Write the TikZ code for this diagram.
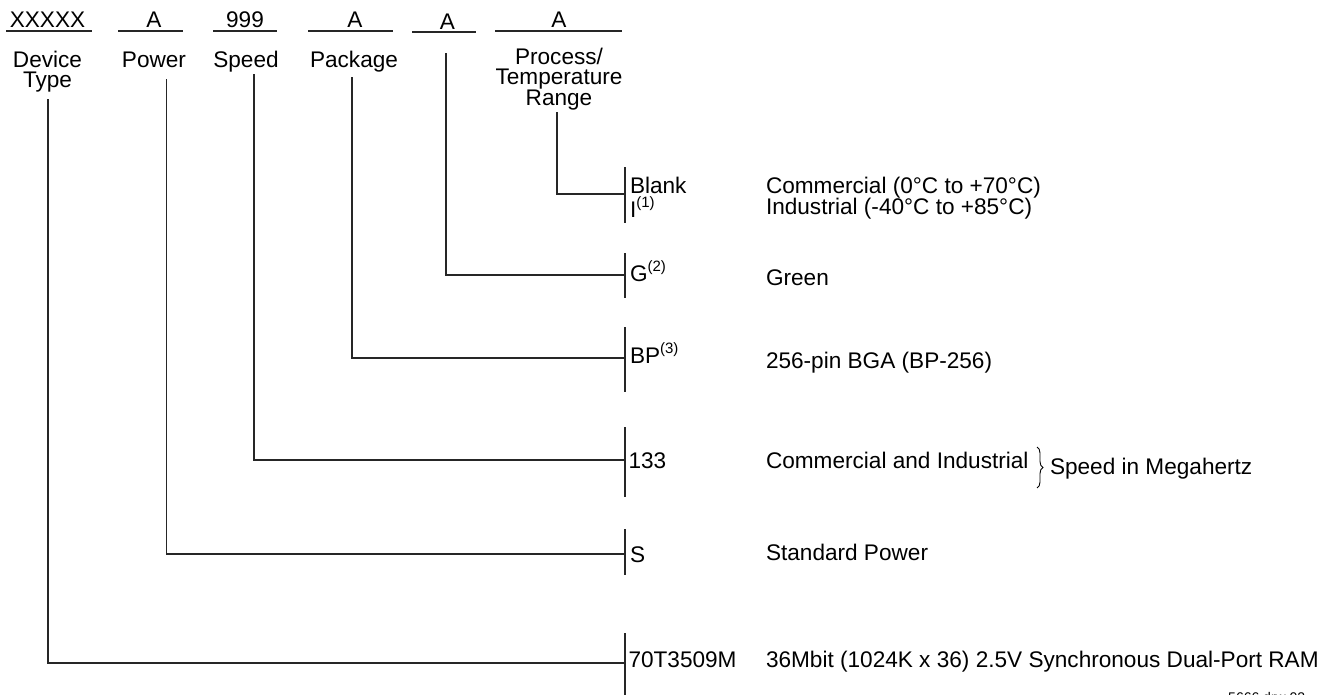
\documentclass[tikz,border=0pt]{standalone}
\usepackage{fontspec}
\setmainfont{Liberation Sans}
\usetikzlibrary{decorations.pathreplacing}
\newcommand{\supnum}[1]{\raisebox{0.4em}{\fontsize{15}{15}\selectfont(#1)}}
\begin{document}
\begin{tikzpicture}[x=1pt,y=-1pt,
  txt/.style={inner sep=0pt,outer sep=0pt,font=\fontsize{22.6}{20.5}\selectfont},
  toplbl/.style={txt,anchor=base},
  lbl/.style={txt,anchor=base,align=center},
  code/.style={txt,anchor=base west},
  desc/.style={txt,anchor=base west},
  wire/.style={line width=1.1pt,black!85},
  uline/.style={line width=1.1pt,black!85}]
\useasboundingbox (0,0) rectangle (1321,694);
% top row
\node[toplbl] (tDev) at (47.5,27) {XXXXX};
\node[toplbl] (tPow) at (154,27) {A};
\node[toplbl] (tSpd) at (245,27) {999};
\node[toplbl] (tPkg) at (355,27) {A};
\node[toplbl] (tGrn) at (447.5,29) {A};
\node[toplbl] (tPrc) at (559,27) {A};
\draw[uline] (6,31) coordinate (u1a) -- (92,31) coordinate (u1b);
\draw[uline] (118,31) coordinate (u2a) -- (183,31) coordinate (u2b);
\draw[uline] (213,31) coordinate (u3a) -- (277,31) coordinate (u3b);
\draw[uline] (308,31) coordinate (u4a) -- (393,31) coordinate (u4b);
\draw[uline] (412,32) coordinate (u5a) -- (476,32) coordinate (u5b);
\draw[uline] (495,31) coordinate (u6a) -- (622,31) coordinate (u6b);
% field labels (base = last line)
\node[lbl] (lDev) at (47.5,87.5) {Device\\Type};
\node[lbl] (lPow) at (154,67) {Power};
\node[lbl] (lSpd) at (246,67) {Speed};
\node[lbl] (lPkg) at (354,67) {Package};
\node[lbl] (lPrc) at (559,105) {Process/\\Temperature\\Range};
% line tops
\coordinate (sDev) at (48,99);
\coordinate (sPow) at (166.5,79);
\coordinate (sSpd) at (254,74);
\coordinate (sPkg) at (352,77);
\coordinate (sGrn) at (446,53);
\coordinate (sPrc) at (557,112);
% vertical bars
\draw[wire] (625,167) coordinate (b1t) -- (625,223) coordinate (b1b);
\draw[wire] (625,253) coordinate (b2t) -- (625,298) coordinate (b2b);
\draw[wire] (625,327) coordinate (b3t) -- (625,392) coordinate (b3b);
\draw[wire] (625,427) coordinate (b4t) -- (625,497) coordinate (b4b);
\draw[wire] (625,529) coordinate (b5t) -- (625,575) coordinate (b5b);
\draw[wire] (625,633) coordinate (b6t) -- (625,700) coordinate (b6b);
\coordinate (e1) at (625,194);
\coordinate (e2) at (625,275);
\coordinate (e3) at (625,358);
\coordinate (e4) at (625,460);
\coordinate (e5) at (625,554);
\coordinate (e6) at (625,663);
% connectors
\draw[wire] (sPrc) |- (e1);
\draw[wire] (sGrn) |- (e2);
\draw[wire] (sPkg) |- (e3);
\draw[wire] (sSpd) |- (e4);
\draw[wire] (sPow) |- (e5);
\draw[wire] (sDev) |- (e6);
% codes
\node[code] (cBlank) at (630,193) {Blank};
\node[code] (cI) at (630,217) {I\supnum{1}};
\node[code] (cG) at (630,281) {G\supnum{2}};
\node[code] (cBP) at (630,363) {BP\supnum{3}};
\node[code] (c133) at (628.5,468) {133};
\node[code] (cS) at (630,562) {S};
\node[code] (cDev) at (628.5,667) {70T3509M};
% descriptions
\node[desc] (dCom) at (766,193) {Commercial (0°C to +70°C)};
\node[desc] (dInd) at (766,214) {Industrial (-40°C to +85°C)};
\node[desc] (dGrn) at (766,285) {Green};
\node[desc] (dBGA) at (766,368) {256-pin BGA (BP-256)};
\node[desc] (dCI) at (766,468) {Commercial and Industrial};
\draw[line width=0.9pt,decorate,decoration={brace,amplitude=6pt}] (1037,447) coordinate (brT) -- (1037,488) coordinate (brB);
\node[desc] (dMHz) at (1050,474) {Speed in Megahertz};
\node[desc] (dStd) at (766,560) {Standard Power};
\node[desc] (dRAM) at (766,667) {36Mbit (1024K x 36) 2.5V Synchronous Dual-Port RAM};
\node[inner sep=0pt,anchor=base west,font=\fontsize{14}{14}\selectfont] (drw) at (1228,702) {5666 drw 02};
\end{tikzpicture}
\end{document}
